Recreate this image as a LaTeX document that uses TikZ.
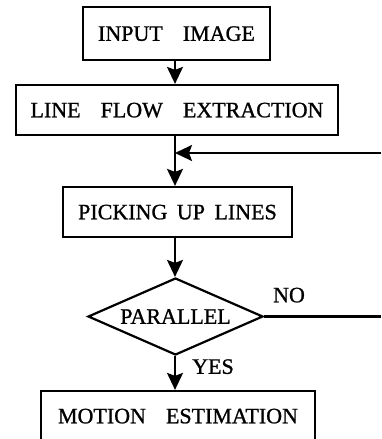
\documentclass[tikz,border=0pt]{standalone}
\usepackage{fontspec}
\setmainfont{Liberation Serif}
\newfontfamily\heavyserif[FakeBold=1.0]{Liberation Serif}
\usetikzlibrary{shapes.geometric,arrows.meta}
\newcommand\wsp{\hspace{20pt}}
\begin{document}
\begin{tikzpicture}[x=1pt,y=-1pt,
  every node/.style={font=\heavyserif\fontsize{22}{24}\selectfont, inner sep=0pt, text depth=0pt},
  procbox/.style={draw, line width=2.2pt, rectangle},
  decision/.style={draw, line width=2.2pt, diamond, aspect=2.27},
  flow/.style={line width=2.2pt, -{Stealth[length=17pt,width=16pt,inset=3pt]}},
  plain/.style={line width=2.2pt}]
  \useasboundingbox (0,0) rectangle (381,439);
  \clip (0,0) rectangle (381,439);

  % process steps
  \node[procbox, minimum width=187pt, minimum height=53pt] (input) at (176.5,33.5) {INPUT\wsp IMAGE};
  \node[procbox, minimum width=322pt, minimum height=50pt] (lfe) at (177,110) {LINE\wsp FLOW\wsp EXTRACTION};
  \node[procbox, minimum width=229pt, minimum height=50pt] (pick) at (177.5,212) {PICKING\hspace{4pt} UP\hspace{4pt} LINES};
  \node[decision, minimum width=175pt, minimum height=77pt] (parallel) at (175.5,316.5) {PARALLEL};
  \node[procbox, minimum width=274pt, minimum height=50pt] (motion) at (178,416) {MOTION\wsp ESTIMATION};

  % branch labels
  \node (no) at (289,295) {NO};
  \node (yes) at (213,366.5) {YES};

  % axis of the main flow, loop-back junction and free ends at the right margin
  \coordinate (axis) at (175,0);
  \coordinate (join) at (175,153);
  \coordinate (back) at (381,153);
  \coordinate (rim) at (381,0);
  \coordinate (noend) at (parallel.east -| rim);

  % connectors
  \draw[flow] (input.south -| axis) -- (lfe.north -| axis);
  \draw[flow] (lfe.south -| axis) -- (pick.north -| axis);
  \draw[flow] (back) -- (join);
  \draw[flow] (pick.south -| axis) -- (parallel.north -| axis);
  \draw[flow] (parallel.south -| axis) -- (motion.north -| axis);
  \draw[plain] (parallel.east) -- (noend);
\end{tikzpicture}
\end{document}
